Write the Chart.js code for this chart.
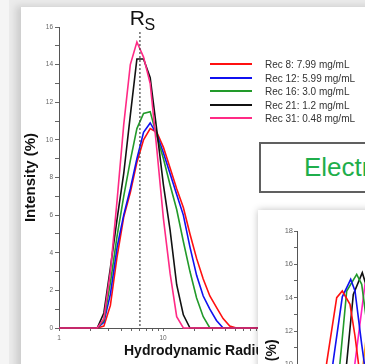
<!DOCTYPE html>
<html>
<head>
<meta charset="utf-8">
<script src="https://cdn.jsdelivr.net/npm/chart.js@4/dist/chart.umd.min.js"></script>
<style>
  html, body { margin: 0; padding: 0; }
  body {
    width: 365px; height: 364px; overflow: hidden; position: relative;
    background: #ebebeb; font-family: "Liberation Sans", Arial, sans-serif;
  }
  #strip { position: absolute; left: 0; top: 0; width: 9px; height: 364px; background: #f5f5f5; }
  #panel {
    position: absolute; left: 21px; top: 7px; width: 420px; height: 420px;
    background: #fff; box-shadow: -5px -1px 7px rgba(0,0,0,0.13);
  }
  #c1 { position: absolute; left: 0; top: 0; }
  #legend { position: absolute; left: 210px; top: 58px; }
  .row { position: absolute; left: 0; height: 13px; white-space: nowrap; }
  .row i { position: absolute; left: 0; top: 5px; width: 42px; height: 2px; }
  .row span { position: absolute; left: 55px; top: 0; font-size: 10px; line-height: 13px; color: #333; }
  #box {
    position: absolute; left: 259px; top: 142px; width: 160px; height: 47px;
    border: 2px solid #606060; background: #fff;
    color: #1fae4b; font-size: 26px; line-height: 47px; padding-left: 43px;
    white-space: nowrap;
  }
  #panel2 {
    position: absolute; left: 258px; top: 210px; width: 220px; height: 220px;
    background: #fff; box-shadow: 0 0 7px rgba(0,0,0,0.25);
  }
  #c2 { position: absolute; left: 0; top: 0; }
</style>
</head>
<body>
<div id="strip"></div>
<div id="panel"></div>
<canvas id="c1" width="420" height="364"></canvas>
<div id="legend"></div>
<div id="box">Electr</div>
<div id="panel2"><canvas id="c2" width="200" height="360"></canvas></div>

<script>
// main chart: DLS size distributions
const sizesNm = [1, 2.33, 2.7, 3.12, 3.62, 4.19, 4.85, 5.61, 6.5, 7.53, 8.72, 10.1, 11.7, 13.54, 15.69, 18.17, 21.04, 24.36, 28.21, 32.67, 37.84, 43.82, 50.75, 1000];
const rec8  = [0, 0, 0.1, 1.2, 3.8, 5.9, 7.2, 8.8, 10.0, 10.6, 10.4, 9.6, 8.5, 7.4, 6.4, 5.0, 3.7, 2.6, 1.7, 1.1, 0.5, 0.1, 0, 0];
const rec12 = [0, 0, 0.3, 1.8, 4.3, 6.0, 7.4, 9.0, 10.4, 10.9, 10.3, 9.3, 8.2, 7.1, 6.0, 4.3, 2.8, 1.7, 1.0, 0.4, 0, 0, 0, 0];
const rec16 = [0, 0, 0.4, 2.4, 4.9, 7.0, 8.9, 10.6, 11.4, 11.5, 10.2, 9.0, 7.6, 6.3, 4.6, 3.0, 1.6, 0.6, 0, 0, 0, 0, 0, 0];
const rec21 = [0, 0, 0.8, 3.2, 5.8, 8.2, 11.3, 14.3, 14.3, 13.3, 10.5, 7.6, 5.2, 2.3, 0.7, 0, 0, 0, 0, 0, 0, 0, 0, 0];
const rec31 = [0, 0, 0.5, 3.0, 6.8, 10.8, 14.0, 15.2, 14.4, 13.0, 9.5, 5.8, 2.9, 0.6, 0, 0, 0, 0, 0, 0, 0, 0, 0, 0];

const seriesLabels = ["Rec 8: 7.99 mg/mL", "Rec 12: 5.99 mg/mL", "Rec 16: 3.0 mg/mL", "Rec 21: 1.2 mg/mL", "Rec 31: 0.48 mg/mL"];
const seriesColors = ["#ff1010", "#1010f0", "#229a2a", "#111111", "#ff2a85"];
const seriesValues = [rec8, rec12, rec16, rec21, rec31];

const xTickLabels = [1, 10, 100, 1000];
const yMax = 16;
const rsValue = 6.0; // Rs marker, nm

// second (partly hidden) chart behind the overlay
const x2 = {
  red:     [0, 6.5, 14.85, 19.85, 22.65, 26.5, 29, 31, 40, 48, 80],
  blue:    [0, 9, 18, 22.65, 26.85, 29, 32.35, 36, 45, 55, 80],
  green:   [0, 12.5, 21.5, 24.85, 29.85, 32.35, 36, 40, 50, 60, 80],
  black:   [0, 15.5, 24.85, 28.15, 32.65, 36.5, 40, 45, 55, 65, 80],
  magenta: [0, 20, 29, 34, 37.5, 41, 45, 50, 60, 70, 80],
  orange:  [0, 24, 33.15, 37.5, 41.5, 45, 50, 55, 65, 75, 80],
};
const y2 = {
  red:     [0, 0, 10.1, 14.0, 14.4, 13.6, 11.7, 9.8, 2, 0, 0],
  blue:    [0, 0, 10.1, 14.05, 15.1, 14.4, 11.2, 8, 2, 0, 0],
  green:   [0, 0, 10.1, 14.4, 15.4, 14.8, 11.5, 8, 2, 0, 0],
  black:   [0, 0, 10.1, 14.2, 15.5, 14.0, 11, 8, 2, 0, 0],
  magenta: [0, 0, 10.1, 14.8, 15.6, 14.5, 11, 8, 2, 0, 0],
  orange:  [0, 0, 10.1, 14.5, 15.8, 14.6, 11, 8, 2, 0, 0],
};
const colors2 = { red: "#ff1010", blue: "#1010f0", green: "#229a2a", black: "#111111", magenta: "#ff20c0", orange: "#ff9a10" };
const y2Max = 18;

const tickFont = { family: "Liberation Sans", size: 6.5 };

// legend
const legend = document.getElementById("legend");
seriesLabels.forEach((label, i) => {
  const row = document.createElement("div");
  row.className = "row";
  row.style.top = (i * 13.5) + "px";
  row.innerHTML = '<i style="background:' + seriesColors[i] + '"></i><span>' + label + "</span>";
  legend.appendChild(row);
});

const rsMarker = {
  id: "rsMarker",
  afterDatasetsDraw(chart) {
    const { ctx, chartArea, scales } = chart;
    const x = scales.x.getPixelForValue(rsValue);
    ctx.save();
    ctx.strokeStyle = "#444";
    ctx.lineWidth = 1.2;
    ctx.setLineDash([2, 2]);
    ctx.beginPath();
    ctx.moveTo(x, chartArea.top + 5);
    ctx.lineTo(x, chartArea.bottom);
    ctx.stroke();
    ctx.setLineDash([]);
    ctx.fillStyle = "#111";
    ctx.textBaseline = "alphabetic";
    ctx.font = "21px 'Liberation Sans'";
    ctx.textAlign = "right";
    ctx.fillText("R", x + 5, chartArea.top - 2);
    ctx.font = "16px 'Liberation Sans'";
    ctx.textAlign = "left";
    ctx.fillText("S", x + 4.5, chartArea.top + 3);
    ctx.restore();
  },
};

const axisGrid = { drawOnChartArea: false, drawTicks: true, tickLength: 4, color: "#666" };

new Chart(document.getElementById("c1"), {
  type: "line",
  data: {
    datasets: seriesValues.map((vals, i) => ({
      label: seriesLabels[i],
      data: vals.map((v, j) => ({ x: sizesNm[j], y: v })),
      borderColor: seriesColors[i],
      borderWidth: 1.6,
      pointRadius: 0,
      tension: 0,
      clip: false,
      order: seriesValues.length - i,
    })),
  },
  options: {
    responsive: false,
    animation: false,
    devicePixelRatio: 1,
    layout: { padding: { left: 22, top: 27, right: 49, bottom: 0 } },
    plugins: { legend: { display: false }, tooltip: { enabled: false } },
    scales: {
      x: {
        type: "logarithmic",
        min: 1,
        max: 1000,
        afterBuildTicks(scale) {
          scale.ticks = scale.ticks.filter((t) => {
            const m = t.value / Math.pow(10, Math.floor(Math.log10(t.value) + 1e-9));
            return Math.abs(m - Math.round(m)) < 1e-6;
          });
        },
        afterFit(scale) { scale.height = 36; },
        grid: { ...axisGrid, tickLength: 3 },
        border: { display: true, color: "#555", width: 1 },
        ticks: {
          autoSkip: false,
          maxRotation: 0,
          padding: 3,
          color: "#666",
          font: tickFont,
          callback: (v) => (xTickLabels.includes(v) ? String(v) : ""),
        },
        title: {
          display: true,
          text: "Hydrodynamic Radius (nm)",
          color: "#111",
          padding: { top: 0, bottom: 4 },
          font: { family: "Liberation Sans", size: 14, weight: "bold" },
        },
      },
      y: {
        min: 0,
        max: yMax,
        afterFit(scale) { scale.width = 37; },
        grid: axisGrid,
        border: { display: true, color: "#555", width: 1 },
        ticks: {
          stepSize: 1,
          autoSkip: false,
          padding: 2,
          color: "#666",
          font: tickFont,
          callback: (v) => (v % 2 === 0 ? v : ""),
        },
        title: {
          display: true,
          text: "Intensity (%)",
          color: "#111",
          padding: { top: 0, bottom: 0 },
          font: { family: "Liberation Sans", size: 15, weight: "bold" },
        },
      },
    },
  },
  plugins: [rsMarker],
});

new Chart(document.getElementById("c2"), {
  type: "line",
  data: {
    datasets: Object.keys(x2).map((k) => ({
      label: k,
      data: x2[k].map((x, j) => ({ x, y: y2[k][j] })),
      borderColor: colors2[k],
      borderWidth: 1.6,
      pointRadius: 0,
      tension: 0,
    })),
  },
  options: {
    responsive: false,
    animation: false,
    devicePixelRatio: 1,
    layout: { padding: { left: 0, top: 21, right: 1, bottom: 0 } },
    plugins: { legend: { display: false }, tooltip: { enabled: false } },
    scales: {
      x: {
        type: "linear",
        min: 0,
        max: 80,
        afterFit(scale) { scale.height = 39; },
        grid: { ...axisGrid, tickLength: 3 },
        border: { display: true, color: "#555", width: 1 },
        ticks: { display: false },
      },
      y: {
        min: 0,
        max: y2Max,
        afterFit(scale) { scale.width = 39; },
        grid: { ...axisGrid, tickLength: 3 },
        border: { display: true, color: "#555", width: 1 },
        ticks: {
          stepSize: 1,
          autoSkip: false,
          padding: 1,
          color: "#666",
          font: { family: "Liberation Sans", size: 7.5 },
          callback: (v) => (v % 2 === 0 ? v : ""),
        },
        title: {
          display: true,
          text: "Intensity (%)",
          color: "#111",
          padding: { top: 5.6, bottom: 0 },
          font: { family: "Liberation Sans", size: 14, weight: "bold" },
        },
      },
    },
  },
});
</script>
</body>
</html>
